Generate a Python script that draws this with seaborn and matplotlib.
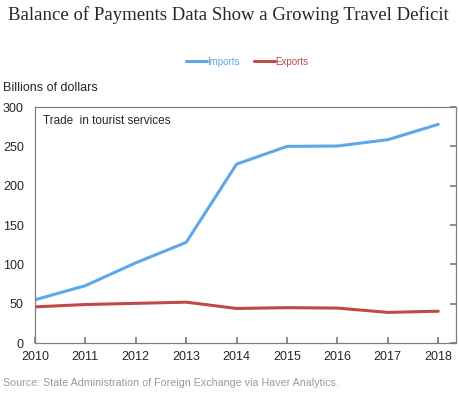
import pandas as pd
import matplotlib
matplotlib.use("Agg")
import matplotlib.pyplot as plt
import seaborn as sns

# data (billions of dollars)
years = [2010, 2011, 2012, 2013, 2014, 2015, 2016, 2017, 2018]
imports = [55, 73, 102, 128, 227.5, 250, 250.5, 258.5, 278]
exports = [46, 49, 50.5, 52, 44, 45, 44.5, 39, 40.5]
series_names = ["Imports", "Exports"]
series_colors = ["#5CA8E8", "#BE4B48"]

df = pd.DataFrame({
    "Year": years * 2,
    "Value": imports + exports,
    "Series": [series_names[0]] * len(years) + [series_names[1]] * len(years),
})

sns.set_theme(style="white")
plt.rcParams["font.family"] = ["Liberation Sans", "DejaVu Sans"]

fig = plt.figure(figsize=(4.6, 3.98), dpi=100)
ax = fig.add_axes([0.076, 0.138, 0.915, 0.593])

sns.lineplot(data=df, x="Year", y="Value", hue="Series",
             palette=dict(zip(series_names, series_colors)),
             linewidth=2.2, ax=ax, legend=False)

ax.set_xlim(2010, 2018.35)
ax.set_ylim(0, 300)
ax.set_xticks(years)
ax.set_yticks(range(0, 301, 50))
ax.set_xlabel("")
ax.set_ylabel("")
for s in ax.spines.values():
    s.set_color("#7f7f7f")
    s.set_linewidth(0.9)

ax.tick_params(axis="x", direction="in", length=4, color="#7f7f7f",
               labelsize=9, pad=6, bottom=True)
ax.tick_params(axis="y", direction="in", length=4, color="#7f7f7f",
               labelsize=9, pad=8, left=False, right=True,
               labelleft=True, labelright=False)

ax.text(0.02, 0.965, "Trade  in tourist services", transform=ax.transAxes,
        fontsize=8.5, va="top", ha="left")

# legend on top
handles = [plt.Line2D([], [], color=c, lw=2.2) for c in series_colors]
leg = fig.legend(handles, series_names, loc="center", bbox_to_anchor=(0.537, 0.845),
                 ncol=2, frameon=False, fontsize=7, handlelength=2.2,
                 handletextpad=0.05, columnspacing=1.4)
for t, c in zip(leg.get_texts(), series_colors):
    t.set_color(c)

fig.text(0.017, 0.962, "Balance of Payments Data Show a Growing Travel Deficit",
         fontsize=13.5, family=["Liberation Serif", "DejaVu Serif"], va="center")
fig.text(0.007, 0.778, "Billions of dollars", fontsize=9, va="center")
fig.text(0.007, 0.038, "Source: State Administration of Foreign Exchange via Haver Analytics.",
         fontsize=7.7, color="#9a9a9a", va="center")

fig.savefig("out.png", dpi=100)
